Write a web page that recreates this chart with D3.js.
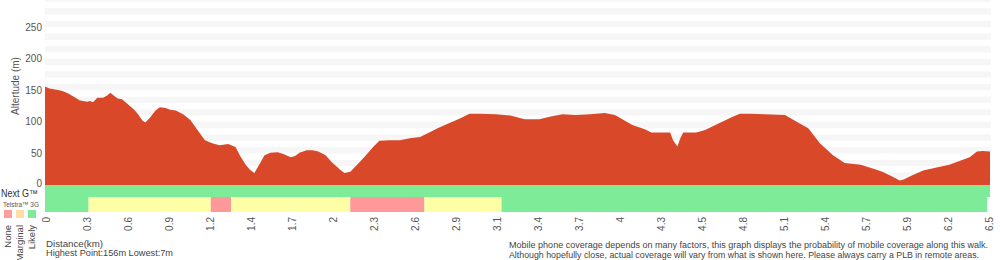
<!DOCTYPE html>
<html>
<head>
<meta charset="utf-8">
<script src="https://cdn.jsdelivr.net/npm/d3@7"></script>
<style>
  body { margin: 0; background: #fff; }
  svg { display: block; font-family: "Liberation Sans", Arial, sans-serif; }
  .tick-lbl { font-size: 10px; fill: #555; }
  .note { font-size: 9.4px; fill: #444; }
  .note-r { font-size: 8.3px; fill: #444; }
</style>
</head>
<body>
<div id="chart"></div>
<script>
// walk profile, distance in km and altitude in m
const distKm = [0.00,0.03,0.08,0.12,0.16,0.21,0.24,0.29,0.31,0.33,0.36,0.40,0.43,0.45,0.47,0.50,0.53,0.56,0.61,0.64,
  0.67,0.69,0.72,0.76,0.79,0.83,0.86,0.90,0.95,1.00,1.04,1.10,1.15,1.20,1.26,1.31,1.34,1.38,1.41,1.44,
  1.48,1.51,1.55,1.60,1.64,1.69,1.72,1.75,1.80,1.84,1.88,1.93,1.97,2.03,2.06,2.10,2.15,2.20,2.26,2.30,
  2.37,2.44,2.51,2.58,2.65,2.70,2.79,2.85,2.92,2.99,3.10,3.20,3.30,3.40,3.47,3.56,3.65,3.75,3.85,3.92,
  3.95,4.04,4.13,4.17,4.30,4.32,4.35,4.37,4.39,4.48,4.54,4.64,4.73,4.78,4.85,4.95,5.09,5.17,5.25,5.33,
  5.42,5.50,5.61,5.71,5.76,5.83,5.88,5.91,5.97,6.04,6.14,6.22,6.29,6.36,6.41,6.45,6.50];
const altitude = [156,153,151,149,145,138,134,132,133,131,138,138,142,146,142,137,136,130,120,112,
  102,99,106,118,123,122,119,118,112,103,90,71,66,63,65,60,47,32,24,19,
  35,47,51,52,49,44,46,51,55,55,53,47,37,24,19,21,33,45,61,70,
  71,71,74,76,84,90,99,105,113,113,112,110,104,104,108,112,111,112,114,111,
  107,95,88,83,83,71,61,74,83,83,87,98,108,113,113,112,111,100,90,66,
  47,35,32,25,21,13,7,9,16,23,28,32,38,44,53,54,53];

const xTickLabels = ["0","0.3","0.6","0.9","1.2","1.4","1.7","2","2.3","2.6","2.9","3.1",
  "3.4","3.7","4","4.3","4.5","4.8","5.1","5.4","5.7","5.9","6.2","6.5"];
const yTicks = [0, 50, 100, 150, 200, 250];

// coverage segments (km)
const networks = ["Next G™", "Telstra™ 3G"];
const nextGStart = [0];
const nextGEnd = [6.5];
const nextGLevel = ["Likely"];
const g3Start = [0, 0.30, 1.14, 1.28, 2.10, 2.61, 3.14];
const g3End = [0.30, 1.14, 1.28, 2.10, 2.61, 3.14, 6.48];
const g3Level = ["Likely","Marginal","None","Marginal","None","Marginal","Likely"];
const levels = ["None", "Marginal", "Likely"];

const W = 1000, H = 260;
const left = 45, right = 990, base = 185;

const svg = d3.select("#chart").append("svg").attr("width", W).attr("height", H);

const x = d3.scaleLinear().domain([0, 6.5]).range([left, right]);
const y = d3.scaleLinear().domain([0, 293]).range([base, 0]);
const xLbl = d3.scalePoint().domain(xTickLabels).range([46, 989]);
const levelColor = d3.scaleOrdinal().domain(levels).range(["#ff9999", "#ffffa6", "#7deb98"]);
const legendColor = d3.scaleOrdinal().domain(levels).range(["#ff9c9c", "#ffdfa6", "#7deb98"]);
const rowY = d3.scaleOrdinal().domain(networks).range([185, 197]);
const rowH = d3.scaleOrdinal().domain(networks).range([12, 15]);

// background stripes every other 10 m
svg.append("g").selectAll("rect")
  .data(d3.range(10, 300, 20))
  .join("rect")
  .attr("x", left).attr("width", right - left + 1)
  .attr("y", d => Math.max(0, y(d + 10)))
  .attr("height", d => y(d) - Math.max(0, y(d + 10)))
  .attr("fill", "#f6f6f6");

// altitude area
const pts = distKm.map((d, i) => [d, altitude[i]]);
const area = d3.area().x(d => x(d[0])).y0(y(0)).y1(d => y(d[1]));
svg.append("path").datum(pts).attr("d", area).attr("fill", "#d94828");

// coverage rows
const rows = [
  { name: networks[0], s: nextGStart, e: nextGEnd, l: nextGLevel },
  { name: networks[1], s: g3Start, e: g3End, l: g3Level }
];
rows.forEach(r => {
  svg.append("g").selectAll("rect")
    .data(r.s.map((s, i) => ({ s, e: r.e[i], l: r.l[i] })))
    .join("rect")
    .attr("x", d => x(d.s)).attr("width", d => x(d.e) - x(d.s))
    .attr("y", rowY(r.name)).attr("height", rowH(r.name))
    .attr("fill", d => levelColor(d.l));
});

// y axis labels
svg.append("g").selectAll("text")
  .data(yTicks)
  .join("text")
  .attr("class", "tick-lbl")
  .attr("x", 42).attr("y", d => d === 0 ? y(d) - 1.5 : y(d)).attr("dy", "0.35em")
  .attr("text-anchor", "end")
  .text(d => d);

svg.append("text")
  .attr("class", "tick-lbl")
  .attr("transform", "translate(19,86) rotate(-90)")
  .attr("text-anchor", "middle")
  .text("Altertude (m)");

// x tick labels, rotated
svg.append("g").selectAll("text")
  .data(xTickLabels)
  .join("text")
  .attr("class", "tick-lbl")
  .attr("transform", d => `translate(${xLbl(d)},217) rotate(-90)`)
  .attr("dy", "0.35em")
  .attr("text-anchor", "end")
  .text(d => d);

// row labels and legend
svg.append("text").attr("x", 1).attr("y", 197)
  .attr("textLength", 37).attr("lengthAdjust", "spacingAndGlyphs")
  .style("font-size", "10px").attr("fill", "#333")
  .text(networks[0]);
svg.append("text").attr("x", 3).attr("y", 206.5)
  .attr("textLength", 36).attr("lengthAdjust", "spacingAndGlyphs")
  .style("font-size", "7.5px").attr("fill", "#555")
  .text(networks[1]);

const legX = d3.scalePoint().domain(levels).range([8, 32]);
svg.append("g").selectAll("rect")
  .data(levels)
  .join("rect")
  .attr("x", d => legX(d) - 4).attr("y", 210)
  .attr("width", 8).attr("height", 8)
  .attr("fill", d => legendColor(d));
svg.append("g").selectAll("text")
  .data(levels)
  .join("text")
  .attr("transform", d => `translate(${legX(d)},225) rotate(-90)`)
  .attr("dy", "0.35em")
  .attr("text-anchor", "end")
  .style("font-size", "9.5px").attr("fill", "#444")
  .text(d => d);

// footer
svg.append("text").attr("class", "note").attr("x", 46).attr("y", 246.5)
  .attr("textLength", 57).attr("lengthAdjust", "spacingAndGlyphs").text("Distance(km)");
svg.append("text").attr("class", "note").attr("x", 46).attr("y", 256)
  .attr("textLength", 127).attr("lengthAdjust", "spacingAndGlyphs").text("Highest Point:156m Lowest:7m");
svg.append("text").attr("class", "note-r").attr("x", 509).attr("y", 248)
  .attr("textLength", 479).attr("lengthAdjust", "spacingAndGlyphs")
  .text("Mobile phone coverage depends on many factors, this graph displays the probability of mobile coverage along this walk.");
svg.append("text").attr("class", "note-r").attr("x", 509).attr("y", 258)
  .attr("textLength", 470).attr("lengthAdjust", "spacingAndGlyphs")
  .text("Although hopefully close, actual coverage will vary from what is shown here. Please always carry a PLB in remote areas.");
</script>
</body>
</html>
